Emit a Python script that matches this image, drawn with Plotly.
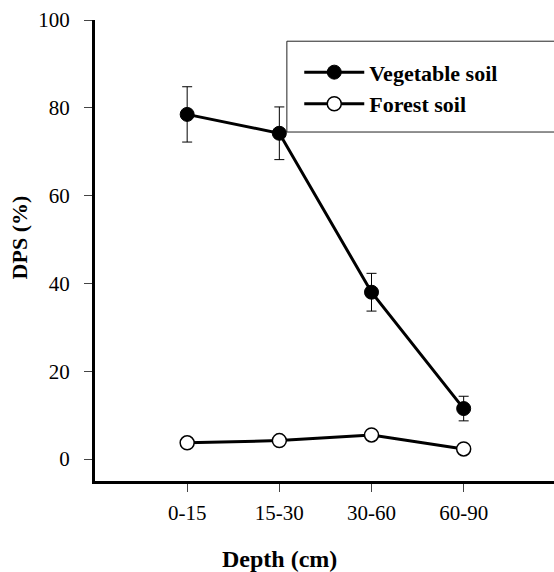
import plotly.graph_objects as go

depths = ["0-15", "15-30", "30-60", "60-90"]
veg_dps = [78.5, 74.2, 38.0, 11.5]
veg_err = [6.3, 6.0, 4.3, 2.8]
forest_dps = [3.7, 4.2, 5.5, 2.3]
forest_err = [0.5, 0.6, 1.0, 0.5]
y_ticks = [0, 20, 40, 60, 80, 100]

FONT = "Liberation Serif"
xpos = list(range(len(depths)))

fig = go.Figure()
fig.add_trace(go.Scatter(
    x=xpos, y=veg_dps, name="Vegetable soil", mode="lines+markers",
    line=dict(color="black", width=3),
    marker=dict(symbol="circle", size=14, color="black", line=dict(color="black", width=1)),
    error_y=dict(type="data", array=veg_err, color="black", thickness=1, width=5),
    legendgroup="a",
))
fig.add_trace(go.Scatter(
    x=xpos, y=forest_dps, name="Forest soil", mode="lines+markers",
    line=dict(color="black", width=3),
    marker=dict(symbol="circle", size=14, color="white", line=dict(color="black", width=1.5)),
    error_y=dict(type="data", array=forest_err, color="black", thickness=1, width=5),
    legendgroup="b",
))

fig.add_shape(type="rect", xref="paper", yref="paper",
              x0=0.418, x1=1.05, y0=0.757, y1=0.954,
              line=dict(color="#222", width=1), fillcolor="rgba(0,0,0,0)", layer="below")

fig.add_annotation(text="<b>Depth (cm)</b>", xref="paper", yref="paper",
                   x=0.403, y=-0.17, xanchor="center", yanchor="middle",
                   showarrow=False, font=dict(family=FONT, size=24, color="black"))
fig.add_annotation(text="<b>DPS (%)</b>", xref="paper", yref="paper",
                   x=-0.165, y=0.529, xanchor="center", yanchor="middle", textangle=-90,
                   showarrow=False, font=dict(family=FONT, size=22, color="black"))

fig.update_layout(
    width=554, height=572,
    margin=dict(l=95, r=0, t=20, b=91),
    paper_bgcolor="white", plot_bgcolor="white",
    showlegend=True,
    legend=dict(x=0.445, y=0.932, xanchor="left", yanchor="top",
                bgcolor="rgba(0,0,0,0)", borderwidth=0,
                font=dict(family=FONT, size=22, color="black", weight="bold"),
                traceorder="grouped", tracegroupgap=0, itemwidth=60),
    xaxis=dict(range=[-1, 3.98], tickmode="array", tickvals=xpos, ticktext=depths,
               showgrid=False, zeroline=False, showline=True, linecolor="black", linewidth=3,
               ticks="outside", ticklen=8, tickwidth=1, tickcolor="#444",
               tickfont=dict(family=FONT, size=21, color="black"), ticklabelstandoff=3),
    yaxis=dict(range=[-5, 100], tickmode="array", tickvals=y_ticks,
               showgrid=False, zeroline=False, showline=True, linecolor="black", linewidth=3,
               ticks="outside", ticklen=8, tickwidth=1, tickcolor="#444",
               tickfont=dict(family=FONT, size=21, color="black"), ticklabelstandoff=10),
)

fig.write_html("out.html", config={"displayModeBar": False},
               post_script="document.body.style.margin='0';")
